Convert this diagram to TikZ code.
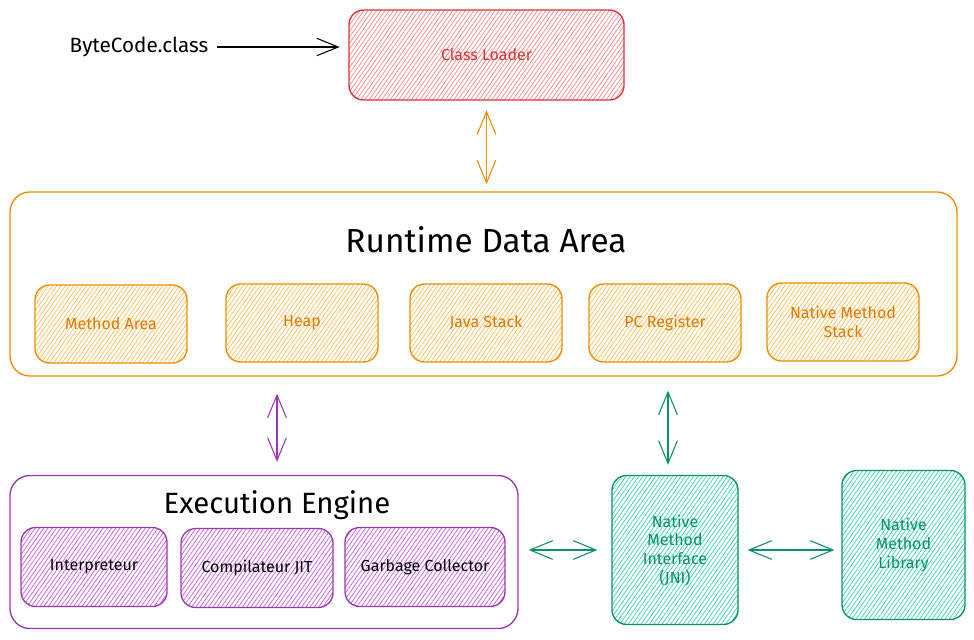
\documentclass[tikz,border=0pt]{standalone}
\usepackage{fontspec}
\setmainfont{Fira Sans}
\usetikzlibrary{arrows.meta,patterns.meta,calc}
\definecolor{cred}{HTML}{E03131}
\definecolor{credf}{HTML}{FF8787}
\definecolor{corg}{HTML}{E67700}
\definecolor{corgl}{HTML}{F08C00}
\definecolor{corgf}{HTML}{FCC05A}
\definecolor{cpur}{HTML}{9C36B5}
\definecolor{cpurf}{HTML}{CC5DE8}
\definecolor{cgrn}{HTML}{099268}
\definecolor{cgrnf}{HTML}{38D9A9}
\tikzset{
  box/.style={draw, rounded corners=11pt, line width=1pt, align=center, inner sep=0pt},
  hatch/.style={pattern={Lines[angle=55,distance=2.6pt,line width=0.55pt]}, pattern color=#1},
  biarrow/.style={{Straight Barb[length=17pt,width=14pt]}-{Straight Barb[length=17pt,width=14pt]}, line width=0.8pt},
  uniarrow/.style={-{Straight Barb[length=16pt,width=13pt]}, line width=0.8pt},
  small/.style={font=\fontsize{12}{14}\selectfont},
}
\begin{document}
\begin{tikzpicture}[x=0.75pt,y=-0.75pt]
\useasboundingbox (0,0) rectangle (974,639);

% Class loader
\node[box, draw=cred, hatch=credf, minimum width=206.25pt, minimum height=67.5pt, text=cred, small] (CL) at (486.5,55) {Class Loader};
\node[font=\fontsize{15.5}{18}\selectfont] (BC) at (139,47) {ByteCode.class};
\draw[uniarrow, shorten >=6.75pt, shorten <=3pt] (BC.east) -- (BC.east -| CL.west);

% Runtime data area
\node[box, draw=corgl, minimum width=710.25pt, minimum height=138pt, rounded corners=15pt] (RDA) at (483.5,284) {};
\node[font=\fontsize{25}{28}\selectfont] (RDAt) at (486,240) {Runtime Data Area};
\foreach \n/\x/\y/\t in {MA/111/324/Method Area, HP/302/323/Heap, JS/486/323/Java Stack, PC/665/323/PC Register, NMS/843/322/{Native Method\\Stack}}{
  \node[box, draw=corgl, hatch=corgf, minimum width=114pt, minimum height=58.5pt, text=corg, small] (\n) at (\x,\y) {\t};
}
\draw[biarrow, draw=corgl, shorten <=7.5pt, shorten >=5.25pt] (CL.south) -- (CL.south |- RDA.north);

% Execution engine
\node[box, draw=cpur, minimum width=381pt, minimum height=114.75pt, rounded corners=15pt] (EE) at (264,552) {};
\node[font=\fontsize{22}{25}\selectfont] (EEt) at (277,505) {Execution Engine};
\node[box, draw=cpur, hatch=cpurf, minimum width=109.5pt, minimum height=59.25pt, small] (IN) at (94,567) {Interpreteur};
\node[box, draw=cpur, hatch=cpurf, minimum width=114pt, minimum height=59.25pt, small] (CJ) at (257,568) {Compilateur JIT};
\node[box, draw=cpur, hatch=cpurf, minimum width=120pt, minimum height=59.25pt, small] (GC) at (425,567) {Garbage Collector};
\draw[biarrow, draw=cpur, shorten <=12.75pt, shorten >=9.75pt] (EEt |- RDA.south) -- (EEt |- EE.north);

% Native
\node[box, draw=cgrn, hatch=cgrnf, minimum width=94.5pt, minimum height=111.75pt, text=cgrn, small] (JNI) at (675,550) {Native\\Method\\Interface\\(JNI)};
\node[box, draw=cgrn, hatch=cgrnf, minimum width=92.25pt, minimum height=111.75pt, text=cgrn, small] (NML) at (903.5,545) {Native\\Method\\Library};
\draw[biarrow, draw=cgrn, shorten <=10.5pt, shorten >=7.5pt] ([xshift=-5.25pt]JNI.north |- RDA.south) -- ([xshift=-5.25pt]JNI.north);
\draw[biarrow, draw=cgrn, shorten <=7.5pt, shorten >=10.5pt] (JNI.west -| EE.east) -- (JNI.west);
\draw[biarrow, draw=cgrn, shorten <=6.75pt, shorten >=5.25pt] (JNI.east) -- (JNI.east -| NML.west);
\end{tikzpicture}
\end{document}
